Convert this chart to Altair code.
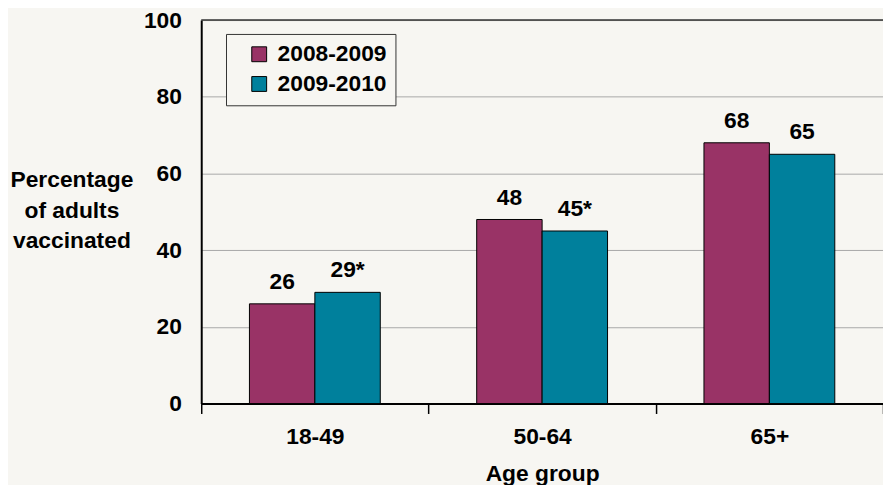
import altair as alt
import pandas as pd

groups = ["18-49", "50-64", "65+"]
seasons = ["2008-2009", "2009-2010"]
v0809 = [26, 48, 68]
v0910 = [29, 45, 65]
labels0809 = ["26", "48", "68"]
labels0910 = ["29*", "45*", "65"]
y_ticks = [0, 20, 40, 60, 80, 100]

rows = []
for i, g in enumerate(groups):
    rows.append({"group": g, "season": seasons[0], "value": v0809[i], "label": labels0809[i]})
    rows.append({"group": g, "season": seasons[1], "value": v0910[i], "label": labels0910[i]})
df = pd.DataFrame(rows)

FONT = "Liberation Sans"
BG = "#f7f6f2"
FS = 23
W, H = 688, 387

x = alt.X(
    "group:N", sort=groups,
    scale=alt.Scale(paddingInner=0, paddingOuter=0),
    axis=alt.Axis(
        title="Age group", labelAngle=0, labelFontSize=FS, labelFont=FONT,
        labelFontWeight="bold", labelColor="black", labelPadding=12,
        titleFontSize=FS, titleFont=FONT, titleFontWeight="bold", titleColor="black",
        titlePadding=15, domainColor="black", domainWidth=2, tickColor="black",
        tickWidth=1.5, tickSize=10, tickBand="extent", grid=False,
    ),
)
xoff = alt.XOffset("season:N", sort=seasons, scale=alt.Scale(paddingInner=0, paddingOuter=0.737))
y = alt.Y(
    "value:Q",
    scale=alt.Scale(domain=[0, 100]),
    axis=alt.Axis(
        values=y_ticks, title=["Percentage", "of adults", "vaccinated"], titleAngle=0,
        titleX=-131, titleY=161, titleAlign="center", titleBaseline="middle",
        titleLineHeight=31, titleFontSize=FS, titleFont=FONT, titleFontWeight="bold",
        titleColor="black", labelFontSize=FS, labelFont=FONT, labelFontWeight="bold",
        labelColor="black", labelPadding=20, tickSize=0, domainColor="black",
        domainWidth=2, gridColor="#a8a8a8", gridWidth=1,
    ),
)
color = alt.Color(
    "season:N", sort=seasons,
    scale=alt.Scale(domain=seasons, range=["#993366", "#00809c"]),
    legend=alt.Legend(
        title=None, orient="none", legendX=25, legendY=14, symbolType="square",
        symbolSize=225, symbolStrokeColor="black", symbolStrokeWidth=1,
        labelFontSize=FS, labelFont=FONT, labelFontWeight="bold", labelColor="black",
        labelOffset=7, rowPadding=6, padding=9, symbolOffset=13,
        strokeColor="#333333", fillColor=BG,
    ),
)

base = alt.Chart(df)
bars = base.mark_bar(stroke="black", strokeWidth=1).encode(x=x, xOffset=xoff, y=y, color=color)
text = base.mark_text(
    dy=-15, baseline="alphabetic", fontSize=FS, font=FONT, fontWeight="bold", color="black"
).encode(x=x, xOffset=xoff, y=y, text="label:N")
top = alt.Chart(pd.DataFrame({"top": [y_ticks[-1]]})).mark_rule(color="#333333", strokeWidth=1.5).encode(
    y=alt.Y("top:Q", scale=alt.Scale(domain=[0, 100]))
)

chart = alt.layer(bars, top, text).properties(
    width=W, height=H,
    autosize=alt.AutoSizeParams(type="none"),
    padding={"left": 195, "top": 10, "right": 0, "bottom": 80},
).configure(background=BG).configure_view(stroke=None)

chart.save("out.html", embed_options={"renderer": "svg", "actions": False})
